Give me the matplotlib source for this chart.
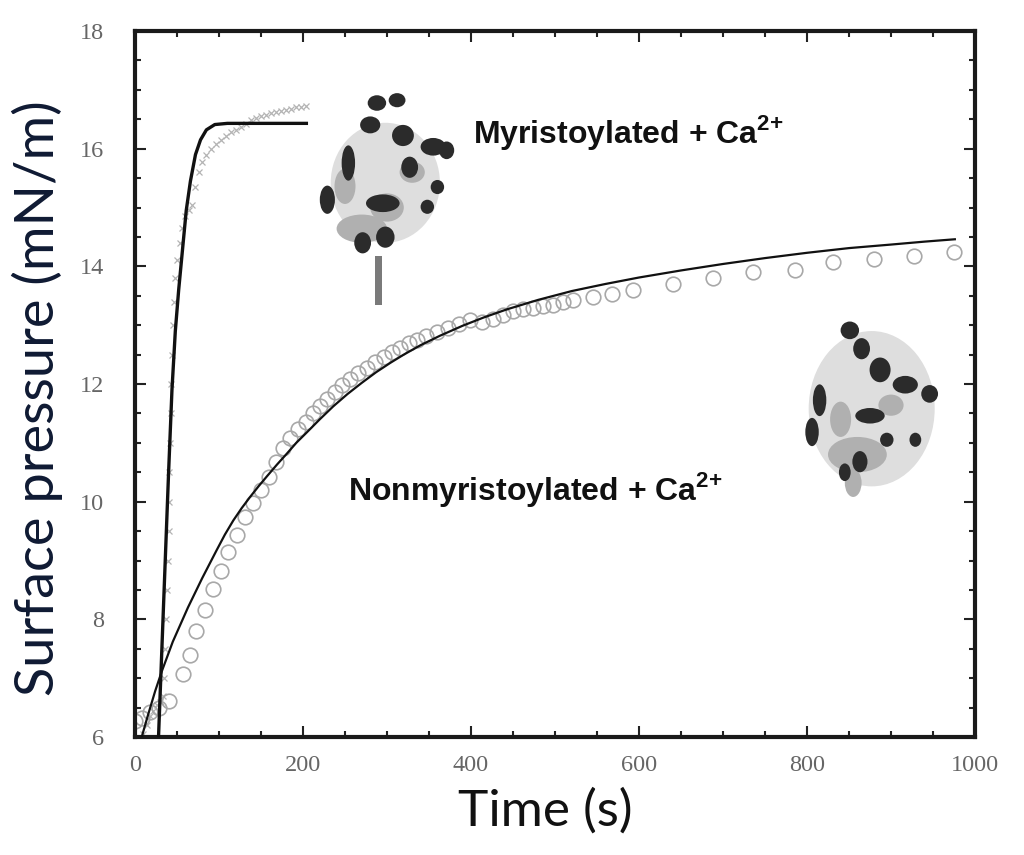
import matplotlib
matplotlib.use("Agg")
import matplotlib.pyplot as plt
from matplotlib.patches import Ellipse, Rectangle
from matplotlib.ticker import MultipleLocator

plt.rcParams["mathtext.fontset"] = "custom"
plt.rcParams["mathtext.rm"] = "Liberation Sans"
plt.rcParams["mathtext.bf"] = "Liberation Sans:bold"

# ---------------- data ----------------
# Myristoylated + Ca2+ : measured (crosses)
myr_t = [10, 14, 18, 22, 26, 30, 33, 35, 36, 37, 38, 39, 40, 40.5, 41, 42, 42.5, 43, 44, 45,
         46, 48, 50, 53, 56, 60, 64, 68, 72, 76, 80, 85, 90, 96, 102, 108, 114, 120, 126,
         132, 138, 144, 150, 156, 162, 168, 174, 180, 186, 192, 198, 204]
myr_p = [6.05, 6.2, 6.35, 6.45, 6.55, 6.6, 6.7, 7.0, 7.5, 8.0, 8.5, 9.0, 9.5, 10.0, 10.5, 11.0,
         11.5, 12.0, 12.5, 13.0, 13.4, 13.8, 14.1, 14.4, 14.65, 14.85, 14.95, 15.05, 15.35,
         15.6, 15.78, 15.9, 16.0, 16.08, 16.15, 16.22, 16.28, 16.32, 16.36, 16.42, 16.48,
         16.52, 16.55, 16.57, 16.6, 16.62, 16.64, 16.66, 16.68, 16.7, 16.7, 16.72]
# Myristoylated fit (solid black)
myr_fit_t = [26, 28, 32, 36, 40, 44, 48, 52, 56, 61, 66, 72, 78, 85, 95, 110, 206]
myr_fit_p = [5.5, 6.0, 7.5, 9.0, 10.5, 11.9, 12.9, 13.6, 14.2, 14.95, 15.45, 15.9, 16.15,
             16.32, 16.41, 16.43, 16.43]

# Nonmyristoylated + Ca2+ : measured (circles)
non_t = [0, 8, 18, 28, 40, 57, 65, 73, 83, 93, 102, 111, 121, 131, 141, 150, 159, 168, 176,
         185, 194, 203, 212, 220, 229, 238, 247, 256, 266, 276, 286, 296, 306, 315, 326, 336,
         347, 360, 373, 386, 399, 413, 426, 438, 450, 462, 474, 486, 498, 510, 521, 545, 568,
         593, 640, 688, 736, 786, 831, 880, 927, 975]
non_p = [6.28, 6.33, 6.42, 6.5, 6.62, 7.07, 7.39, 7.81, 8.16, 8.51, 8.83, 9.15, 9.43, 9.74,
         9.97, 10.2, 10.42, 10.68, 10.92, 11.08, 11.23, 11.36, 11.5, 11.63, 11.75, 11.87, 11.98,
         12.08, 12.18, 12.27, 12.37, 12.46, 12.54, 12.61, 12.69, 12.75, 12.81, 12.88, 12.95,
         13.02, 13.08, 13.06, 13.1, 13.18, 13.24, 13.28, 13.3, 13.32, 13.35, 13.4, 13.43,
         13.48, 13.53, 13.6, 13.7, 13.8, 13.9, 13.94, 14.07, 14.12, 14.18, 14.25]
# Nonmyristoylated fit (thin black)
non_fit_t = [8, 15, 24, 32, 45, 63, 80, 97, 107, 117, 127, 137, 147, 157, 169, 181, 192, 204,
             220, 236, 253, 270, 287, 304, 320, 340, 363, 390, 415, 443, 480, 520, 560, 600,
             650, 700, 750, 800, 850, 900, 940, 976]
non_fit_p = [6.0, 6.35, 6.78, 7.12, 7.62, 8.2, 8.7, 9.17, 9.44, 9.68, 9.89, 10.08, 10.26,
             10.43, 10.63, 10.82, 11.0, 11.17, 11.4, 11.62, 11.83, 12.02, 12.2, 12.36, 12.5,
             12.66, 12.82, 12.99, 13.13, 13.27, 13.43, 13.58, 13.7, 13.81, 13.93, 14.04,
             14.14, 14.23, 14.31, 14.37, 14.42, 14.46]

x_ticks = [0, 200, 400, 600, 800, 1000]
y_ticks = [6, 8, 10, 12, 14, 16, 18]
x_label = "Time (s)"
y_label = "Surface pressure (mN/m)"
label_myr = r"Myristoylated + Ca$^{\mathbf{2{+}}}$"
label_non = r"Nonmyristoylated + Ca$^{\mathbf{2{+}}}$"

# ---------------- figure ----------------
fig = plt.figure(figsize=(10.24, 8.55), dpi=100)
ax = fig.add_axes([135 / 1024, 1 - 737 / 855, 840 / 1024, 706 / 855])

ax.plot(myr_t, myr_p, linestyle="none", marker="x", markersize=5, mew=0.9,
        color="#b4b4b4", zorder=2)
ax.plot(non_t, non_p, linestyle="none", marker="o", markersize=10.5, mfc="none",
        mec="#a8a8a8", mew=1.2, zorder=2)
ax.plot(myr_fit_t, myr_fit_p, color="#111111", lw=2.4, zorder=3, solid_capstyle="butt")
ax.plot(non_fit_t, non_fit_p, color="#111111", lw=1.6, zorder=3)

ax.set_xlim(0, 1000)
ax.set_ylim(6, 18)
ax.set_xticks(x_ticks)
ax.set_yticks(y_ticks)
ax.xaxis.set_minor_locator(MultipleLocator(50))
ax.yaxis.set_minor_locator(MultipleLocator(0.5))
ax.tick_params(which="both", direction="in", top=True, right=True, width=1.5,
               color="#222222")
ax.tick_params(which="major", length=8)
ax.tick_params(which="minor", length=4)
ax.tick_params(axis="both", which="major", labelsize=17.5, labelcolor="#666666")
ax.tick_params(axis="x", which="major", pad=13)
ax.tick_params(axis="y", which="major", pad=22)
for lab in ax.get_xticklabels() + ax.get_yticklabels():
    lab.set_family("Liberation Serif")
for s in ax.spines.values():
    s.set_linewidth(3)
    s.set_color("#1a1a1a")

ax.set_xlabel(x_label, fontsize=37, family=["Lato", "DejaVu Sans"], color="#111111")
ax.set_ylabel(y_label, fontsize=39, family=["Lato", "DejaVu Sans"], color="#0f1a33")
ax.xaxis.set_label_coords(0.488, -0.072)
ax.yaxis.set_label_coords(-0.086, 0.48)

ax.text(0.402, 0.841, label_myr, transform=ax.transAxes, fontsize=23, fontweight="bold",
        family="Liberation Sans", color="#111111", va="baseline", ha="left")
ax.text(0.254, 0.336, label_non, transform=ax.transAxes, fontsize=23, fontweight="bold",
        family="Liberation Sans", color="#111111", va="baseline", ha="left")

# ---------------- decorative protein renderings (axes fraction) ----------------
def molecule(body, light_parts, dark_parts, stalk=None):
    cx, cy, w, h = body
    ax.add_patch(Ellipse((cx, cy), w, h, transform=ax.transAxes, color="#dedede",
                         zorder=4, lw=0))
    for (x, y, w2, h2) in light_parts:
        ax.add_patch(Ellipse((x, y), w2, h2, transform=ax.transAxes, color="#b0b0b0",
                             zorder=5, lw=0))
    for (x, y, w2, h2) in dark_parts:
        ax.add_patch(Ellipse((x, y), w2, h2, transform=ax.transAxes, color="#2b2b2b",
                             zorder=6, lw=0))
    if stalk is not None:
        ax.add_patch(Rectangle(stalk[:2], stalk[2], stalk[3], transform=ax.transAxes,
                               color="#7a7a7a", zorder=5, lw=0))

top_body = (0.298, 0.785, 0.13, 0.17)
top_light = [(0.27, 0.72, 0.06, 0.04), (0.30, 0.75, 0.04, 0.04), (0.25, 0.78, 0.025, 0.05),
             (0.33, 0.80, 0.03, 0.03)]
top_dark = [(0.288, 0.898, 0.022, 0.022), (0.312, 0.902, 0.02, 0.02),
            (0.280, 0.867, 0.024, 0.024), (0.319, 0.852, 0.026, 0.03),
            (0.254, 0.813, 0.016, 0.05), (0.327, 0.807, 0.02, 0.03),
            (0.355, 0.836, 0.03, 0.025), (0.371, 0.831, 0.018, 0.025),
            (0.229, 0.761, 0.018, 0.04), (0.295, 0.756, 0.04, 0.025),
            (0.348, 0.751, 0.016, 0.02), (0.271, 0.700, 0.02, 0.03),
            (0.298, 0.708, 0.022, 0.03), (0.360, 0.779, 0.016, 0.02)]
top_stalk = (0.2855, 0.612, 0.008, 0.07)
molecule(top_body, top_light, top_dark, top_stalk)

bot_body = (0.877, 0.465, 0.15, 0.22)
bot_light = [(0.86, 0.40, 0.07, 0.05), (0.855, 0.36, 0.02, 0.04), (0.84, 0.45, 0.025, 0.05),
             (0.90, 0.47, 0.03, 0.03)]
bot_dark = [(0.851, 0.576, 0.022, 0.025), (0.865, 0.550, 0.02, 0.03),
            (0.887, 0.520, 0.025, 0.035), (0.917, 0.499, 0.03, 0.025),
            (0.946, 0.486, 0.02, 0.025), (0.815, 0.477, 0.016, 0.045),
            (0.806, 0.432, 0.016, 0.04), (0.875, 0.455, 0.035, 0.022),
            (0.895, 0.421, 0.016, 0.02), (0.863, 0.390, 0.018, 0.03),
            (0.845, 0.375, 0.014, 0.025), (0.929, 0.421, 0.014, 0.02)]
molecule(bot_body, bot_light, bot_dark)

fig.savefig("out.png", dpi=100, facecolor="white")
